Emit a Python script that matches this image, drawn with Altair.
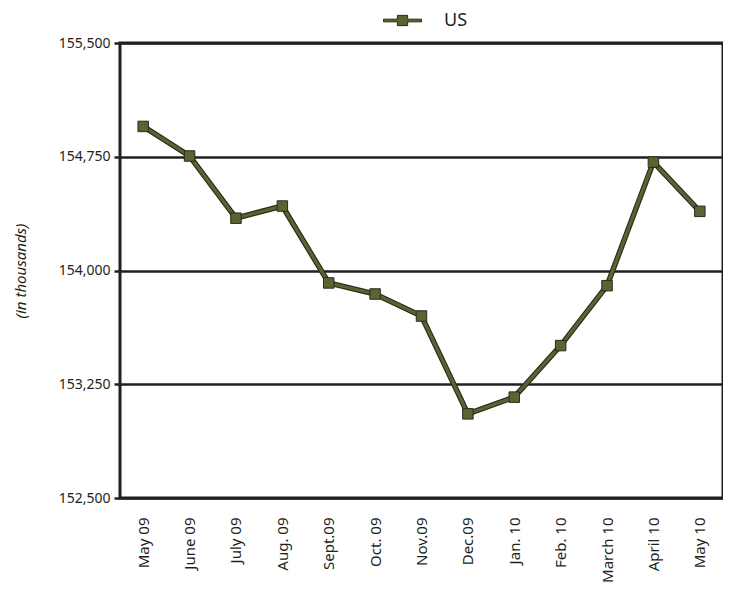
import altair as alt
import pandas as pd

months = ["May 09", "June 09", "July 09", "Aug. 09", "Sept.09", "Oct. 09", "Nov.09",
          "Dec.09", "Jan. 10", "Feb. 10", "March 10", "April 10", "May 10"]
us_values = [154950, 154755, 154345, 154425, 153918, 153845, 153700,
             153055, 153165, 153505, 153900, 154715, 154390]
y_ticks = [152500, 153250, 154000, 154750, 155500]
series = ["US"] * len(months)

df = pd.DataFrame({"month": months, "value": us_values, "series": series})

OLIVE = "#5a6431"
DARK = "#2a2a1e"
INK = "#231f20"
FONT = "Noto Sans"

x = alt.X("month:N", sort=months,
          scale=alt.Scale(type="point", padding=0.5),
          axis=alt.Axis(title=None, labelAngle=-90, labelAlign="right", labelBaseline="middle",
                        labelPadding=19, ticks=False, domain=False, grid=False,
                        labelFont=FONT, labelFontSize=15, labelColor=INK))
y = alt.Y("value:Q",
          scale=alt.Scale(domain=[152500, 155500], nice=False, zero=False),
          axis=alt.Axis(title="(in thousands)", values=y_ticks, format=",.0f",
                        titleFont=FONT, titleFontStyle="italic", titleFontWeight="normal",
                        titleFontSize=15, titleColor=INK, titlePadding=30,
                        labelFont=FONT, labelFontSize=14, labelColor=INK, labelPadding=4,
                        tickSize=6, tickColor=INK, tickWidth=2.5,
                        domain=False, grid=True, gridColor=INK, gridWidth=2.5,
                        gridOpacity=1))

base = alt.Chart(df)

line_dark = base.mark_line(color=DARK, strokeWidth=5.5).encode(x=x, y=y)
line_olive = base.mark_line(color=OLIVE, strokeWidth=3.2).encode(x=x, y=y)

symbol_path = ("M-1,-0.07 H-0.27 V-0.27 H0.27 V-0.07 H1 V0.07 H0.27 V0.27 "
               "H-0.27 V0.07 H-1 Z")

points = base.mark_square(size=110, opacity=1, filled=True, stroke=DARK, strokeWidth=1).encode(
    x=x, y=y,
    color=alt.Color("series:N",
                    scale=alt.Scale(domain=["US"], range=[OLIVE]),
                    legend=alt.Legend(title=None, orient="none", legendX=263, legendY=-42,
                                      padding=0, symbolType=symbol_path, symbolSize=1444,
                                      symbolStrokeColor=DARK, symbolStrokeWidth=1,
                                      symbolFillColor=OLIVE, symbolOpacity=1,
                                      labelFont=FONT, labelFontSize=18, labelColor=INK,
                                      labelOffset=22)),
)

chart = alt.layer(line_dark, line_olive, points).properties(
    width=603, height=455,
    autosize=alt.AutoSizeParams(type="none"),
    padding={"left": 112, "top": 35, "right": 0, "bottom": 91},
).configure(background="white").configure_view(stroke=INK, strokeWidth=3)

chart.save("out.html", embed_options={"renderer": "svg", "actions": False})
